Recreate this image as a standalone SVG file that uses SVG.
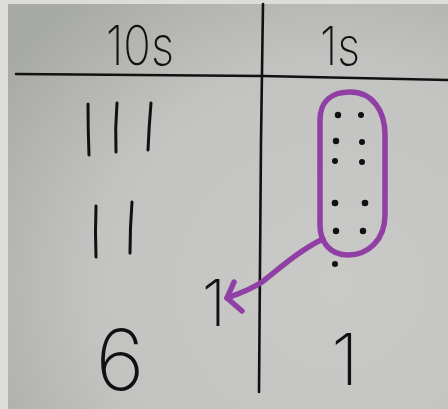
<svg xmlns="http://www.w3.org/2000/svg" width="448" height="409" viewBox="0 0 448 409">
<defs>
<radialGradient id="bg" cx="0.75" cy="0.7" r="0.9">
<stop offset="0" stop-color="#c9cac7"/>
<stop offset="0.6" stop-color="#c3c4c1"/>
<stop offset="1" stop-color="#a8aaa6"/>
</radialGradient>
<style>
.ink{stroke:#111;fill:none;stroke-linecap:round;stroke-width:3}
.rule{stroke:#111;fill:none;stroke-width:2.6;stroke-linecap:round}
.hand{font-family:"Inter","Lato","Liberation Sans",sans-serif;fill:#111;font-weight:200}
.purple{stroke:#9040a4;fill:none;stroke-width:5.5;stroke-linecap:round;stroke-linejoin:round}
.dot{fill:#111}
</style>
</defs>
<rect x="0" y="0" width="448" height="409" fill="url(#bg)"/>
<rect x="0" y="0" width="448" height="4" fill="#dcdcda"/>
<rect x="0" y="0" width="8" height="409" fill="#dcdcda"/>

<g id="grid">
<path class="rule" d="M16,74 L262,76 L448,80"/>
<path class="rule" d="M263,4 L261,140 L259,392"/>
</g>

<g id="header-tens">
<text class="hand" x="140" y="65" font-size="55" text-anchor="middle" textLength="68" lengthAdjust="spacingAndGlyphs">10s</text>
</g>
<g id="header-ones">
<text class="hand" x="340" y="65" font-size="53" text-anchor="middle" textLength="40" lengthAdjust="spacingAndGlyphs">1s</text>
</g>

<g id="tens-row1">
<path class="ink" d="M88,104 Q88,130 89,155"/>
<path class="ink" d="M117,103 Q115,128 116,152"/>
<path class="ink" d="M151,103 Q149,126 148,150"/>
</g>
<g id="tens-row2">
<path class="ink" d="M96,206 Q95,232 96,257"/>
<path class="ink" d="M132,202 Q130,228 130,253"/>
</g>

<g id="ones-dots">
<circle class="dot" cx="338" cy="115" r="3.2"/>
<circle class="dot" cx="361" cy="115" r="3"/>
<circle class="dot" cx="336" cy="141" r="3.2"/>
<circle class="dot" cx="362" cy="142" r="3"/>
<circle class="dot" cx="335" cy="161" r="3"/>
<circle class="dot" cx="362" cy="162" r="3"/>
<circle class="dot" cx="335" cy="203" r="3.3"/>
<circle class="dot" cx="365" cy="203" r="3.3"/>
<circle class="dot" cx="336" cy="231" r="3.2"/>
<circle class="dot" cx="363" cy="231" r="3.2"/>
<circle class="dot" cx="335" cy="264" r="3"/>
</g>

<g id="group-of-ten">
<path class="purple" d="M350,92 C372,92 385,110 385,135 L385,215 C385,240 368,255 348,255 C330,255 320,242 320,225 L320,120 C320,100 333,92 350,92 Z"/>
</g>

<g id="connectors">
<path class="purple" d="M323,239 C300,250 280,268 262,282 C250,290 238,294 227,298"/>
<path class="purple" d="M234,282 L227,298 L242,311"/>
</g>

<g id="carry">
<text class="hand" x="214" y="326" font-size="64" text-anchor="middle">1</text>
</g>
<g id="answer-tens">
<text class="hand" x="120" y="390" font-size="84" text-anchor="middle">6</text>
</g>
<g id="answer-ones">
<text class="hand" x="345" y="385" font-size="72" text-anchor="middle">1</text>
</g>
</svg>
